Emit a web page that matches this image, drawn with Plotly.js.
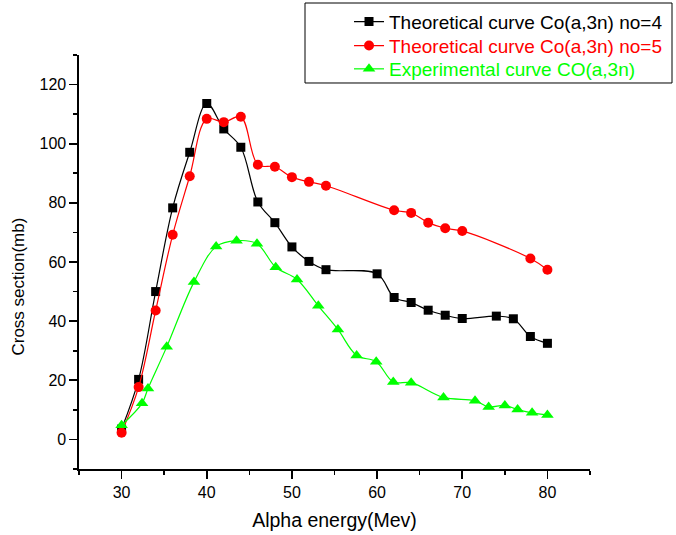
<!DOCTYPE html>
<html>
<head>
<meta charset="utf-8">
<script src="https://cdn.plot.ly/plotly-3.0.1.min.js"></script>
<style>
  html, body { margin: 0; padding: 0; background: #fff; }
  #chart { width: 676px; height: 535px; }
</style>
</head>
<body>
<div id="chart"></div>
<script>
// Theoretical curve no=4 (black squares)
const xNo4 = [30, 32, 34, 36, 38, 40, 42, 44, 46, 48, 50, 52, 54, 60, 62, 64, 66, 68, 70, 74, 76, 78, 80];
const yNo4 = [3.5, 20.3, 50.0, 78.3, 97.1, 113.6, 105.0, 98.8, 80.3, 73.3, 65.1, 60.2, 57.4, 56.0, 48.0, 46.3, 43.7, 42.0, 40.9, 41.7, 40.8, 34.8, 32.5];

// Theoretical curve no=5 (red circles)
const xNo5 = [30, 32, 34, 36, 38, 40, 42, 44, 46, 48, 50, 52, 54, 62, 64, 66, 68, 70, 78, 80];
const yNo5 = [2.3, 17.7, 43.6, 69.2, 89.0, 108.4, 107.3, 109.1, 92.9, 92.2, 88.7, 87.1, 85.8, 77.5, 76.6, 73.3, 71.4, 70.5, 61.2, 57.4];

// Experimental curve (green triangles)
const xExp = [30, 32.4, 33.1, 35.3, 38.5, 41.1, 43.5, 45.9, 48.1, 50.6, 53.1, 55.4, 57.6, 59.9, 61.9, 64.0, 67.8, 71.5, 73.1, 75.0, 76.5, 78.2, 80.0];
const yExp = [4.8, 12.2, 17.2, 31.3, 53.2, 65.2, 67.2, 66.2, 58.2, 54.1, 45.2, 37.2, 28.4, 26.3, 19.4, 19.2, 14.2, 13.1, 11.0, 11.5, 10.1, 9.0, 8.3];

const seriesNames = [
  "Theoretical curve Co(a,3n) no=4",
  "Theoretical curve Co(a,3n) no=5",
  "Experimental curve CO(a,3n)"
];
const seriesColors = ["#000000", "#ff0000", "#00ff00"];
const xTitle = "Alpha energy(Mev)";
const yTitle = "Cross section(mb)";

const FONT = "'Liberation Sans', Arial, sans-serif";

const traces = [
  {
    x: xNo4, y: yNo4, name: seriesNames[0], type: "scatter", mode: "lines+markers",
    legend: "legend",
    line: { color: seriesColors[0], width: 1.2, shape: "spline", smoothing: 1 },
    marker: { symbol: "square", size: 9, color: seriesColors[0] }
  },
  {
    x: xNo5, y: yNo5, name: seriesNames[1], type: "scatter", mode: "lines+markers",
    legend: "legend2",
    line: { color: seriesColors[1], width: 1.2, shape: "spline", smoothing: 1 },
    marker: { symbol: "circle", size: 10, color: seriesColors[1] }
  },
  {
    x: xExp, y: yExp, name: seriesNames[2], type: "scatter", mode: "lines+markers",
    legend: "legend3",
    line: { color: seriesColors[2], width: 1.2, shape: "spline", smoothing: 1 },
    marker: { symbol: "triangle-up", size: 11, color: seriesColors[2] }
  }
];

function legendAt(yc, color) {
  return {
    x: 0.5284, y: yc, xanchor: "left", yanchor: "middle",
    bgcolor: "rgba(0,0,0,0)", borderwidth: 0,
    font: { family: FONT, size: 19, color: color }
  };
}

const layout = {
  width: 676, height: 535,
  margin: { l: 79, r: 86, t: 55, b: 66, autoexpand: false },
  paper_bgcolor: "#ffffff", plot_bgcolor: "#ffffff",
  font: { family: FONT, size: 16, color: "#000000" },
  showlegend: true,
  legend: legendAt(1.0804, seriesColors[0]),
  legend2: legendAt(1.0225, seriesColors[1]),
  legend3: legendAt(0.9662, seriesColors[2]),
  xaxis: {
    range: [25, 85], dtick: 10, tick0: 0,
    showline: true, linecolor: "#000", linewidth: 1.6,
    showgrid: false, zeroline: false,
    ticks: "outside", ticklen: 8, tickwidth: 1.6, tickcolor: "#000",
    minor: { dtick: 5, ticks: "outside", ticklen: 4, tickwidth: 1.6, tickcolor: "#000", showgrid: false },
    tickfont: { family: FONT, size: 16 },
    title: { text: xTitle, font: { family: FONT, size: 19.5 }, standoff: 13 }
  },
  yaxis: {
    range: [-10, 130], dtick: 20, tick0: 0,
    showline: true, linecolor: "#000", linewidth: 1.6,
    showgrid: false, zeroline: false,
    ticks: "outside", ticklen: 8, tickwidth: 1.6, tickcolor: "#000",
    minor: { dtick: 10, ticks: "outside", ticklen: 4, tickwidth: 1.6, tickcolor: "#000", showgrid: false },
    tickfont: { family: FONT, size: 16 }
  },
  annotations: [
    {
      text: yTitle, xref: "paper", yref: "paper",
      x: -0.118, y: 0.44, xanchor: "center", yanchor: "middle",
      textangle: -90, showarrow: false,
      font: { family: FONT, size: 17, color: "#000" }
    }
  ],
  shapes: [
    {
      type: "rect", xref: "paper", yref: "paper",
      x0: 0.4423, x1: 1.1605, y0: 0.9324, y1: 1.1256,
      line: { color: "#000", width: 1 }, fillcolor: "rgba(0,0,0,0)"
    }
  ]
};

Plotly.newPlot("chart", traces, layout, { displayModeBar: false, staticPlot: true });
</script>
</body>
</html>
